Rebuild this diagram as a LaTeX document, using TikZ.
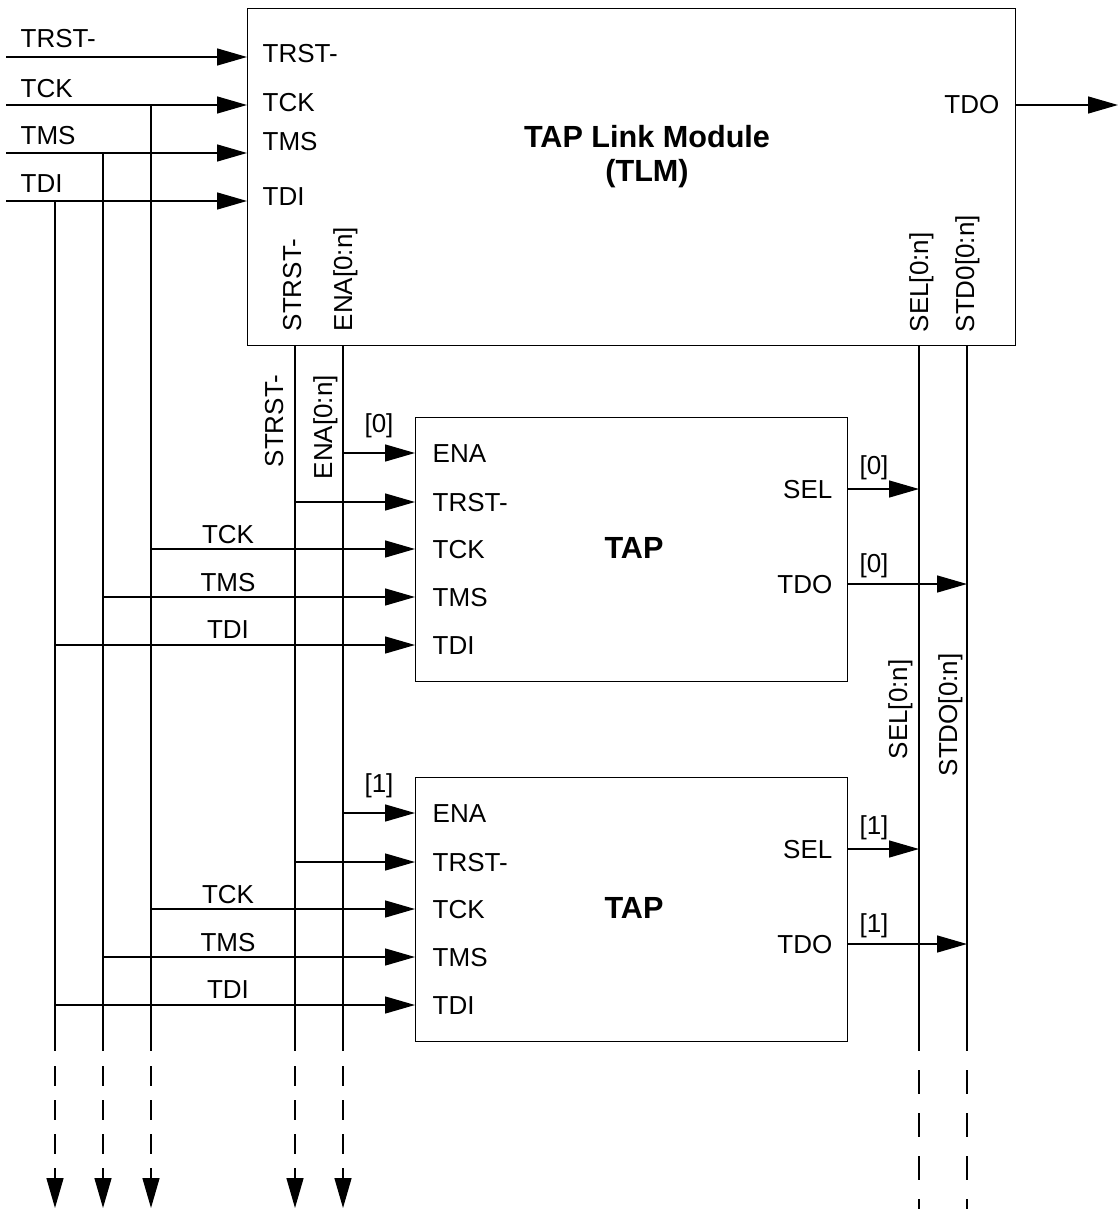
\documentclass[tikz,border=0pt]{standalone}
\usepackage{fontspec}
\setmainfont{Liberation Sans}
\usetikzlibrary{arrows.meta}
\begin{document}
\begin{tikzpicture}[x=1pt,y=-1pt,line width=1.4pt,
  arr/.style={-{Triangle[length=30pt,width=17pt]}},
  lbl/.style={inner sep=0pt,font=\fontsize{26}{28}\selectfont},
  ttl/.style={inner sep=0pt,font=\fontsize{30.6}{34}\selectfont\bfseries},
  vlbl/.style={lbl,rotate=90,anchor=base west},
  box/.style={draw,line width=1.4pt,anchor=north west,inner sep=0pt},
  dashL/.style={arr,dash pattern=on 20pt off 14pt},
  dashR/.style={dash pattern=on 24pt off 19pt}]
\useasboundingbox (0,0) rectangle (1118,1209);

% boxes
\node[box,minimum width=768pt,minimum height=337pt] (tlm) at (247,8) {};
\node[box,minimum width=432pt,minimum height=264pt] (tapA) at (415,417) {};
\node[box,minimum width=432pt,minimum height=264pt] (tapB) at (415,777) {};

% titles
\node[ttl,anchor=base] (tlmT1) at (647,148) {TAP Link Module};
\node[ttl,anchor=base] (tlmT2) at (647,182) {(TLM)};
\node[ttl,anchor=base] (tapAT) at (634,558) {TAP};
\node[ttl,anchor=base] (tapBT) at (634,918) {TAP};

% input coordinates
\coordinate (inTRST) at (6,57);
\coordinate (inTCK) at (6,105);
\coordinate (inTMS) at (6,153);
\coordinate (inTDI) at (6,201);
% bus coordinates
\coordinate (bTDI) at (55,201);
\coordinate (bTMS) at (103,153);
\coordinate (bTCK) at (151,105);
\coordinate (bSTRST) at (295,345);
\coordinate (bENA) at (343,345);
\coordinate (bSEL) at (919,345);
\coordinate (bSTDO) at (967,345);
\coordinate (eTDI) at (55,1051);
\coordinate (eTMS) at (103,1051);
\coordinate (eTCK) at (151,1051);
\coordinate (eSTRST) at (295,1051);
\coordinate (eENA) at (343,1051);
\coordinate (eSEL) at (919,1051);
\coordinate (eSTDO) at (967,1051);

% inputs into TLM
\draw[arr] (inTRST) -- (inTRST -| tlm.west);
\draw[arr] (inTCK) -- (inTCK -| tlm.west);
\draw[arr] (inTMS) -- (inTMS -| tlm.west);
\draw[arr] (inTDI) -- (inTDI -| tlm.west);
\node[lbl,anchor=base west] (lTRST) at (20,48) {TRST-};
\node[lbl,anchor=base west] (lTCK) at (20,98) {TCK};
\node[lbl,anchor=base west] (lTMS) at (20,145) {TMS};
\node[lbl,anchor=base west] (lTDI) at (20,193) {TDI};

% TLM port labels
\node[lbl,anchor=base west] (pTRST) at (262,63) {TRST-};
\node[lbl,anchor=base west] (pTCK) at (262,112) {TCK};
\node[lbl,anchor=base west] (pTMS) at (262,151) {TMS};
\node[lbl,anchor=base west] (pTDI) at (262,205) {TDI};
\node[lbl,anchor=base east] (pTDO) at (1000,114) {TDO};
\node[vlbl] (pSTRST) at (301,332) {STRST-};
\node[vlbl] (pENA) at (352,332) {ENA[0:n]};
\node[vlbl] (pSEL) at (928,333) {SEL[0:n]};
\node[vlbl] (pSTDO) at (974,333) {STD0[0:n]};

% TDO output
\coordinate (tdoS) at (1015,105);
\coordinate (tdoE) at (1118,105);
\draw[arr] (tdoS) -- (tdoE);

% vertical buses (solid)
\draw (bTDI) -- (eTDI);
\draw (bTMS) -- (eTMS);
\draw (bTCK) -- (eTCK);
\draw (bSTRST) -- (eSTRST);
\draw (bENA) -- (eENA);
\draw (bSEL) -- (eSEL);
\draw (bSTDO) -- (eSTDO);

% bus labels
\node[vlbl] (vSTRST) at (283,468) {STRST-};
\node[vlbl] (vENA) at (332,480) {ENA[0:n]};
\node[vlbl] (vSEL) at (907,760) {SEL[0:n]};
\node[vlbl] (vSTDO) at (957,777) {STDO[0:n]};

% TAP ports
\foreach \b/\o/\n in {A/0/0,B/360/1}{
  \coordinate (p\b ENA) at (415,453+\o);
  \coordinate (p\b TRST) at (415,502+\o);
  \coordinate (p\b TCK) at (415,549+\o);
  \coordinate (p\b TMS) at (415,597+\o);
  \coordinate (p\b TDI) at (415,645+\o);
  \coordinate (p\b SEL) at (847,489+\o);
  \coordinate (p\b TDO) at (847,584+\o);
  \draw[arr] (p\b ENA -| bENA) -- (p\b ENA);
  \draw[arr] (p\b TRST -| bSTRST) -- (p\b TRST);
  \draw[arr] (p\b TCK -| bTCK) -- (p\b TCK);
  \draw[arr] (p\b TMS -| bTMS) -- (p\b TMS);
  \draw[arr] (p\b TDI -| bTDI) -- (p\b TDI);
  \draw[arr] (p\b SEL) -- (p\b SEL -| bSEL);
  \draw[arr] (p\b TDO) -- (p\b TDO -| bSTDO);
  \node[lbl,anchor=base west] (t\b ENA) at (432,462+\o) {ENA};
  \node[lbl,anchor=base west] (t\b TRST) at (432,511+\o) {TRST-};
  \node[lbl,anchor=base west] (t\b TCK) at (432,558+\o) {TCK};
  \node[lbl,anchor=base west] (t\b TMS) at (432,606+\o) {TMS};
  \node[lbl,anchor=base west] (t\b TDI) at (432,654+\o) {TDI};
  \node[lbl,anchor=base east] (t\b SEL) at (833,498+\o) {SEL};
  \node[lbl,anchor=base east] (t\b TDO) at (833,593+\o) {TDO};
  \node[lbl,anchor=base] (w\b TCK) at (228,543+\o) {TCK};
  \node[lbl,anchor=base] (w\b TMS) at (228,591+\o) {TMS};
  \node[lbl,anchor=base] (w\b TDI) at (228,638+\o) {TDI};
  \node[lbl,anchor=base] (i\b ENA) at (379,432+\o) {[\n]};
  \node[lbl,anchor=base] (i\b SEL) at (874,474+\o) {[\n]};
  \node[lbl,anchor=base] (i\b TDO) at (874,572+\o) {[\n]};
}

% dashed continuations
\coordinate (dTDI) at (55,1208);
\coordinate (dTMS) at (103,1208);
\coordinate (dTCK) at (151,1208);
\coordinate (dSTRST) at (295,1208);
\coordinate (dENA) at (343,1208);
\coordinate (dSEL) at (919,1209);
\coordinate (dSTDO) at (967,1209);
\draw[dashL] (55,1066) -- (dTDI);
\draw[dashL] (103,1066) -- (dTMS);
\draw[dashL] (151,1066) -- (dTCK);
\draw[dashL] (295,1066) -- (dSTRST);
\draw[dashL] (343,1066) -- (dENA);
\draw[dashR] (919,1070) -- (dSEL);
\draw[dashR] (967,1070) -- (dSTDO);
\end{tikzpicture}
\end{document}
